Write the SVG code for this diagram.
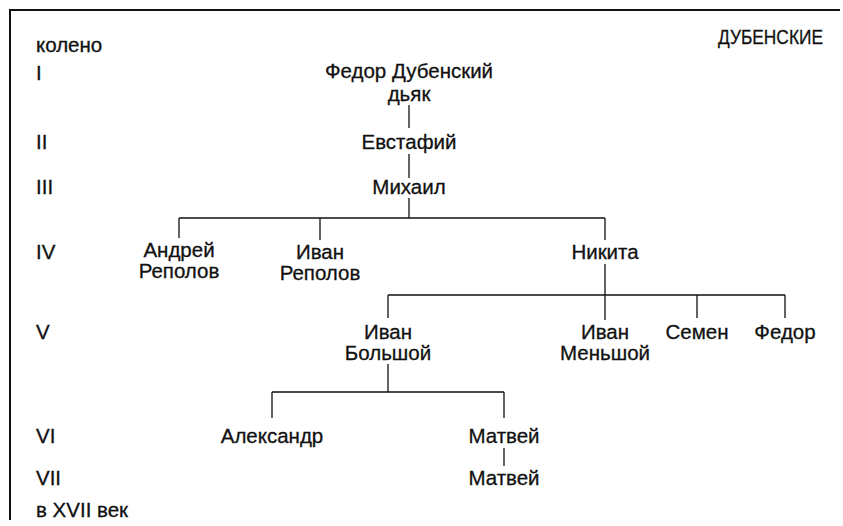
<svg xmlns="http://www.w3.org/2000/svg" width="843" height="526" viewBox="0 0 843 526">
<style>
text{font-family:"Liberation Sans",Arial,sans-serif;font-size:20.5px;fill:#111;stroke:#111;stroke-width:0.3}
.c{text-anchor:middle}
.ln{stroke:#111;stroke-width:1.3;fill:none}
.fr{stroke:#111;stroke-width:2;fill:none}
</style>
<rect width="843" height="526" fill="#fff"/>
<path class="fr" d="M10,520 V10 H840"/>
<g id="labels">
<text x="36" y="52">колено</text>
<text x="36" y="80">I</text>
<text x="36" y="149">II</text>
<text x="36" y="194">III</text>
<text x="36" y="259">IV</text>
<text x="36" y="339">V</text>
<text x="36" y="443">VI</text>
<text x="36" y="485">VII</text>
<text x="36" y="517">в XVII век</text>
<text x="718" y="44" textLength="105" lengthAdjust="spacingAndGlyphs">ДУБЕНСКИЕ</text>
</g>
<g id="connectors">
<path class="ln" d="M409,105 V128"/>
<path class="ln" d="M409,154 V178"/>
<path class="ln" d="M409,198 V218 M179,218 H605 M179,218 V238 M320,218 V240 M605,218 V240"/>
<path class="ln" d="M605,264 V295 M388,295 H785 M388,295 V318 M605,295 V320 M697,295 V318 M785,295 V318"/>
<path class="ln" d="M388,364 V392 M272,392 H504 M272,392 V418 M504,392 V418"/>
<path class="ln" d="M504,448 V466"/>
</g>
<g id="n-fedor-dub"><text class="c" x="409" y="78">Федор Дубенский</text><text class="c" x="409" y="101">дьяк</text></g>
<g id="n-evstafiy"><text class="c" x="409" y="149">Евстафий</text></g>
<g id="n-mikhail"><text class="c" x="409" y="194">Михаил</text></g>
<g id="n-andrey"><text class="c" x="179" y="257">Андрей</text><text class="c" x="179" y="278">Реполов</text></g>
<g id="n-ivan-rep"><text class="c" x="320" y="259">Иван</text><text class="c" x="320" y="280">Реполов</text></g>
<g id="n-nikita"><text class="c" x="605" y="259">Никита</text></g>
<g id="n-ivan-bol"><text class="c" x="388" y="339">Иван</text><text class="c" x="388" y="360">Большой</text></g>
<g id="n-ivan-men"><text class="c" x="605" y="339">Иван</text><text class="c" x="605" y="360">Меньшой</text></g>
<g id="n-semen"><text class="c" x="697" y="339">Семен</text></g>
<g id="n-fedor"><text class="c" x="785" y="339">Федор</text></g>
<g id="n-aleksandr"><text class="c" x="272" y="443">Александр</text></g>
<g id="n-matvey1"><text class="c" x="504" y="443">Матвей</text></g>
<g id="n-matvey2"><text class="c" x="504" y="485">Матвей</text></g>
</svg>
